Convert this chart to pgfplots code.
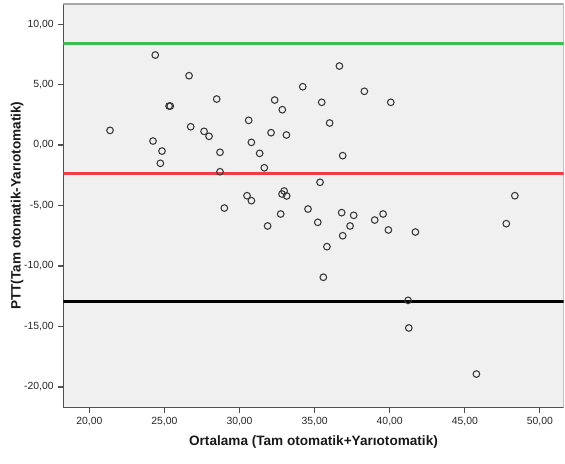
\documentclass[border=0pt]{standalone}
\usepackage{fontspec}
\setmainfont{Liberation Sans}
\usepackage{pgfplots}
\pgfplotsset{compat=1.18}
\definecolor{bgc}{HTML}{F0F0F0}
\definecolor{lgreen}{HTML}{3CBE50}
\definecolor{lred}{HTML}{F03C46}
\definecolor{mk}{HTML}{383838}
\definecolor{axc}{HTML}{505050}
\definecolor{frc}{HTML}{A8A8A8}
\begin{document}
\begin{tikzpicture}
\begin{axis}[
  scale only axis,
  width=375.3pt, height=303pt,
  xmin=18.27, xmax=51.58,
  ymin=-21.71, ymax=11.68,
  axis background/.style={fill=bgc},
  axis lines=left,
  axis line style={-, draw=axc, line width=1.1pt},
  tick align=outside,
  major tick length=3.75pt,
  tick style={draw=axc, line width=0.8pt},
  xtick={20,25,...,50},
  ytick={-20,-15,...,10},
  /pgf/number format/.cd, fixed, fixed zerofill, precision=2, use comma, 1000 sep={}, assume math mode=true,
  /pgfplots/.cd,
  tick label style={font=\fontsize{7.8}{9}\selectfont, text=black!85},
  xlabel={Ortalama (Tam otomatik+Yarıotomatik)},
  ylabel={PTT(Tam otomatik-Yarıotomatik)},
  label style={font=\fontsize{10.2}{12}\selectfont\bfseries, text=black!90},
  xlabel style={at={(axis description cs:0.5,-0.0842)}, anchor=center},
  ylabel style={at={(axis description cs:-0.0925,0.5)}, anchor=center},
  clip=true,
]
\draw[frc, line width=1.2pt] (rel axis cs:0,1) -- (rel axis cs:1,1) -- (rel axis cs:1,0);
\addplot[lgreen, line width=2.2pt] coordinates {(18.27,8.37) (51.58,8.37)};
\addplot[lred, line width=2.2pt] coordinates {(18.27,-2.38) (51.58,-2.38)};
\addplot[black, line width=2.2pt] coordinates {(18.27,-12.97) (51.58,-12.97)};
\addplot[only marks, mark=o, mark size=2.5pt, mark options={draw=mk, line width=0.8pt}] table {
x y
24.39 7.44
26.64 5.73
28.48 3.80
25.31 3.22
25.39 3.22
21.38 1.21
26.75 1.51
27.64 1.13
27.97 0.72
24.24 0.33
24.84 -0.50
28.70 -0.60
24.73 -1.51
28.70 -2.21
28.99 -5.21
36.65 6.53
34.21 4.82
38.31 4.44
32.34 3.72
35.47 3.53
40.07 3.53
32.85 2.92
30.61 2.04
36.00 1.82
32.10 1.02
33.12 0.83
30.79 0.22
31.34 -0.69
36.87 -0.88
31.65 -1.88
35.36 -3.08
30.50 -4.19
30.79 -4.60
32.97 -3.80
32.83 -4.05
33.14 -4.21
31.87 -6.69
32.74 -5.70
34.56 -5.29
35.21 -6.39
36.80 -5.59
37.60 -5.81
37.36 -6.69
36.87 -7.50
35.82 -8.40
39.00 -6.20
39.56 -5.70
39.91 -7.02
41.71 -7.19
35.58 -10.93
48.33 -4.19
47.76 -6.50
41.22 -12.84
41.27 -15.12
45.77 -18.93
};
\end{axis}
\pgfresetboundingbox
\path ([shift={(-47.5pt,-41.5pt)}]current axis.south west) rectangle ([shift={(1pt,2.8pt)}]current axis.north east);
\end{tikzpicture}
\end{document}
